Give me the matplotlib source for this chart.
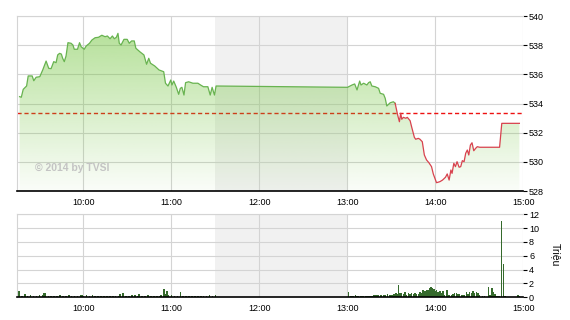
import numpy as np
import matplotlib
matplotlib.use("Agg")
from matplotlib import pyplot as plt
from matplotlib.patches import Polygon

# price: minutes after 9:00 and index value
price_min = [16.4, 17.6, 18.9, 21.2, 22.3, 25.0, 26.1, 27.7, 30.2, 32.2,
             34.5, 36.3, 37.9, 39.7, 41.3, 42.4, 43.7, 44.9, 45.8, 46.9,
             48.1, 49.4, 51.5, 52.8, 53.7, 55.9, 57.3, 58.4, 60.5, 61.8,
             64.1, 65.7, 67.9, 70.2, 72.5, 74.7, 76.3, 78.1, 79.7, 81.0,
             82.4, 83.5, 84.4, 85.6, 87.6, 89.8, 91.2, 92.8, 94.6, 95.7,
             98.4, 101.2, 103.0, 104.5, 105.7, 108.6, 111.5, 114.7, 115.9, 117.6,
             119.5, 120.3, 121.5, 123.3, 124.9, 126.0, 127.1, 128.5, 129.6, 131.7,
             134.6, 138.0, 139.8, 141.8, 144.8, 146.4, 147.7, 149.3, 150.4,
             240.0, 243.1, 244.9, 246.5, 248.3, 249.2, 251.0, 253.2, 254.4, 255.5,
             256.6, 258.9, 261.2, 262.3, 264.6, 265.7, 266.8, 269.1, 271.3, 272.5,
             274.2, 275.4, 276.3, 277.0, 278.1, 279.7, 280.8, 282.7, 283.7, 285.6,
             286.5, 288.3, 289.4, 291.0, 292.4, 293.9, 295.5, 297.3, 298.5, 299.6,
             300.7, 303.0, 304.8, 306.8, 308.0, 309.3, 310.5, 311.3, 312.5, 313.6,
             314.7, 316.1, 317.2, 318.3, 319.5, 320.6, 321.7, 322.7, 323.8, 324.9,
             326.1, 327.4, 328.5, 330.1, 343.7, 345.2, 357.2]
price_val = [534.47, 534.43, 534.97, 535.20, 535.89, 535.89, 535.56, 535.80, 535.84, 536.30,
             536.91, 536.41, 536.39, 536.87, 536.80, 537.33, 537.44, 537.39, 537.10, 536.87,
             537.26, 538.17, 538.13, 538.01, 537.72, 537.72, 538.17, 537.89, 537.72, 537.94,
             538.13, 538.35, 538.51, 538.54, 538.68, 538.58, 538.63, 538.44, 538.63, 538.44,
             538.54, 538.81, 538.13, 538.01, 538.40, 538.40, 538.13, 538.29, 538.29, 537.79,
             537.55, 537.33, 536.69, 537.10, 536.76, 536.57, 536.30, 536.18, 535.39, 535.20,
             535.61, 535.27, 535.54, 535.11, 534.63, 535.04, 535.11, 534.58, 535.43, 535.49,
             535.39, 535.39, 535.27, 535.15, 535.15, 534.58, 535.11, 534.58, 535.20,
             535.11, 535.27, 535.34, 534.93, 535.54, 535.27, 535.39, 535.27, 535.43, 535.49,
             535.20, 535.15, 535.04, 534.70, 534.63, 534.36, 533.83, 534.05, 534.12, 534.01,
             533.21, 532.75, 533.33, 532.92, 533.05, 532.99, 533.05, 532.82, 532.41, 531.68,
             531.55, 531.61, 531.55, 531.38, 530.47, 530.13, 529.94, 529.67, 529.17, 528.87,
             528.57, 528.64, 528.75, 528.94, 529.17, 528.75, 529.44, 529.21, 529.90, 529.67,
             530.01, 529.63, 529.67, 530.08, 530.01, 530.59, 530.81, 530.47, 531.15, 531.31,
             530.76, 530.93, 531.04, 531.00, 531.00, 532.64, 532.64]
ref_level = 533.37
red_from = 272.5

# volume (million shares)
vol_min = [16, 18, 20, 22, 24, 26, 28, 30, 32, 33,
           34, 36, 38, 40, 42, 44, 46, 48, 50, 52,
           54, 56, 58, 59, 60, 62, 64, 66, 68, 70,
           72, 74, 76, 78, 80, 82, 84, 85, 87, 89,
           91, 93, 95, 97, 98, 100, 102, 104, 106, 108,
           110, 112, 113, 115, 116, 117, 118, 120, 122, 124,
           126, 128, 130, 132, 134, 136, 138, 140, 142, 144,
           146, 148, 150,
           240.8, 241.9, 243.0, 244.2, 245.3, 246.4, 247.6, 248.7, 249.8, 251.0,
           252.1, 253.2, 254.4, 255.5, 256.6, 257.7, 258.9, 260.0, 261.1, 262.7,
           264.5, 265.7, 267.2, 269.0, 270.2, 271.8, 273.1, 274.0, 274.9, 275.8,
           277.0, 278.1, 279.2, 280.3, 281.5, 282.6, 283.7, 284.9, 286.0, 287.1,
           288.3, 289.4, 290.5, 291.6, 292.8, 293.9, 295.0, 296.2, 296.8, 297.7,
           298.9, 299.8, 300.7, 301.8, 303.0, 304.1, 305.2, 306.3, 307.9, 309.3,
           310.9, 312.0, 313.1, 314.2, 315.4, 316.5, 317.6, 318.8, 319.9, 321.0,
           322.2, 323.3, 324.4, 325.5, 326.7, 327.8, 328.9, 330.1, 331.9, 333.5,
           336.0, 337.3, 338.4, 339.6, 340.7, 341.8, 343.2, 345.0, 346.3, 347.5,
           350.4, 353.8, 356.1, 357.2]
vol_val = [0.95, 0.2, 0.45, 0.15, 0.35, 0.15, 0.2, 0.3, 0.4, 0.65,
           0.6, 0.15, 0.15, 0.15, 0.15, 0.3, 0.2, 0.2, 0.3, 0.2,
           0.25, 0.2, 0.3, 0.35, 0.25, 0.3, 0.2, 0.3, 0.15, 0.2,
           0.15, 0.2, 0.15, 0.2, 0.2, 0.15, 0.2, 0.45, 0.63, 0.25,
           0.2, 0.3, 0.35, 0.2, 0.48, 0.2, 0.2, 0.3, 0.2, 0.25,
           0.2, 0.25, 0.4, 1.2, 0.45, 0.9, 0.4, 0.3, 0.2, 0.2,
           0.75, 0.2, 0.15, 0.2, 0.15, 0.2, 0.2, 0.2, 0.15, 0.2,
           0.3, 0.2, 0.3,
           0.72, 0.2, 0.2, 0.2, 0.3, 0.2, 0.15, 0.2, 0.15, 0.2,
           0.2, 0.2, 0.2, 0.25, 0.25, 0.35, 0.35, 0.3, 0.3, 0.4,
           0.3, 0.4, 0.5, 0.4, 0.3, 0.5, 0.6, 0.5, 1.85, 0.6,
           0.65, 0.5, 0.75, 0.4, 0.6, 0.5, 0.65, 0.5, 0.6, 0.5,
           0.5, 0.75, 0.6, 1.05, 0.95, 1.1, 1.1, 1.35, 1.45, 1.3,
           1.15, 0.85, 1.05, 0.75, 0.95, 0.65, 0.85, 0.4, 1.05, 0.3,
           0.4, 0.5, 0.65, 0.6, 0.5, 0.5, 0.4, 0.3, 0.4, 0.75,
           0.5, 0.75, 0.65, 0.85, 0.65, 0.75, 0.65, 0.3, 0.2, 0.2,
           1.45, 0.3, 1.35, 0.75, 0.55, 0.2, 0.15, 11.1, 4.8, 0.2,
           0.1, 0.1, 0.35, 0.2]

hour_ticks = [60, 120, 180, 240, 300, 360]
hour_labels = ["10:00", "11:00", "12:00", "13:00", "14:00", "15:00"]
lunch_start, lunch_end = 150, 240

plt.rcParams['font.family'] = ['Liberation Sans', 'DejaVu Sans']

fig = plt.figure(figsize=(5.7, 3.2), dpi=100)
ax = fig.add_axes([0.0307, 0.4031, 0.8877, 0.5469])
ax2 = fig.add_axes([0.0307, 0.0709, 0.8877, 0.2594])


def style(a, yticks):
    a.set_xticks(hour_ticks)
    a.set_xticklabels(hour_labels)
    a.set_yticks(yticks)
    a.yaxis.tick_right()
    a.grid(True, color='#d4d4d4', lw=0.8)
    a.set_axisbelow(True)
    a.axvspan(lunch_start, lunch_end, color='#f1f1f1', lw=0, zorder=0)
    a.spines['left'].set_color('#d4d4d4')
    a.spines['top'].set_color('#d4d4d4')
    a.spines['right'].set_visible(False)
    a.spines['bottom'].set_color('black')
    a.spines['bottom'].set_linewidth(1.2)
    a.tick_params(axis='x', length=0, labelsize=6.5, pad=5)
    a.tick_params(axis='y', length=3, width=0.8, labelsize=6.5, pad=1)


# price panel
style(ax, np.arange(528, 541, 2))
t = np.array(price_min)
v = np.array(price_val)

# reference line sits under the semi-transparent fill
ax.axhline(ref_level, color='#ee1111', lw=1.0, ls=(0, (3, 2)), zorder=0.8)

grad = np.zeros((256, 1, 4))
grad[..., 0] = 110 / 255
grad[..., 1] = 195 / 255
grad[..., 2] = 55 / 255
grad[..., 3] = np.linspace(0.55, 0.03, 256)[:, None]
im = ax.imshow(grad, extent=[15, 360, 528, 540], aspect='auto', origin='upper', zorder=1)
poly = Polygon(list(zip(t, v)) + [(t[-1], 528), (t[0], 528)], closed=True,
               transform=ax.transData, facecolor='none', edgecolor='none')
im.set_clip_path(poly)

green = t <= red_from
red = t >= red_from
ax.plot(t[green], v[green], color='#68b350', lw=0.9, zorder=4)
ax.plot(t[red], v[red], color='#d8424e', lw=0.9, zorder=4)

ax.text(26.6, 529.6, "\u00a9 2014 by TVSI", color='#c4c4c4', fontsize=7.5,
        fontweight='bold', ha='left', va='center', zorder=5)
ax.set_xlim(15, 360)
ax.set_ylim(528, 540)

# volume panel
style(ax2, np.arange(0, 13, 2))
ax2.bar(vol_min, vol_val, width=1.0, color='#356a2c', zorder=2)
ax2.set_xlim(15, 360)
ax2.set_ylim(0, 12)

fig.text(0.975, 0.203, "Triệu", rotation=270, ha='center', va='center', fontsize=7.5)

fig.savefig("out.png", dpi=100)
